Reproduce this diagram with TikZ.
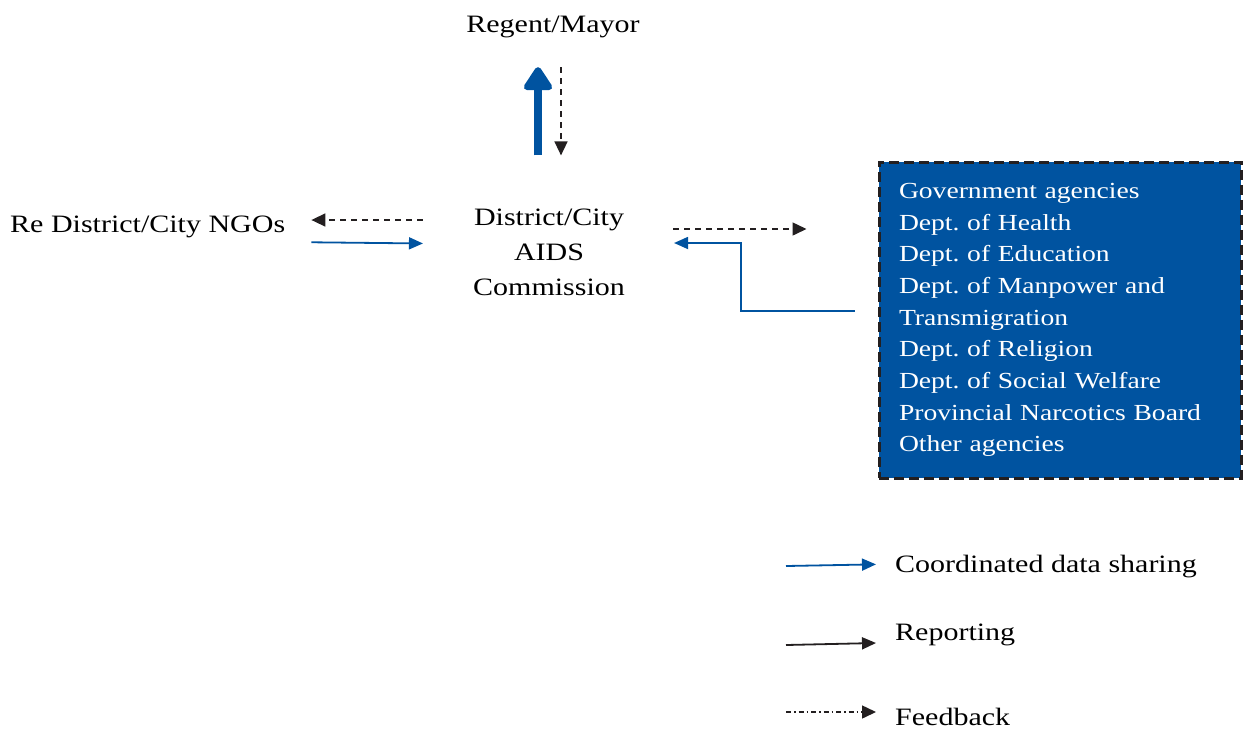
\documentclass[tikz,border=0pt]{standalone}
\usepackage{fontspec}
\setmainfont{Liberation Serif}[FakeStretch=1.2]
\usetikzlibrary{arrows.meta}
\definecolor{kpablue}{RGB}{0,83,160}
\definecolor{ink}{RGB}{35,31,32}
\frenchspacing

\begin{document}
\begin{tikzpicture}[x=1pt, y=1pt,
  txt/.style={inner sep=0pt, font=\fontsize{25}{35}\selectfont},
  data/.style={kpablue, line width=1.8pt, -{Triangle[length=14pt,width=12pt]}},
  rep/.style={ink, line width=1.8pt, -{Triangle[length=14pt,width=12pt]}},
  fb/.style={ink, line width=1.5pt, dash pattern=on 6pt off 5pt, -{Triangle[length=14pt,width=13pt]}},
  fbleg/.style={ink, line width=1.5pt, dash pattern=on 5pt off 3pt on 1.5pt off 3pt, -{Triangle[length=14pt,width=13pt]}}]

  \newcommand\Gap{19pt}

  \useasboundingbox (0,0) rectangle (1245,-729);

  \node[txt] (mayor) at (553,-27) {Regent/Mayor};
  \node[txt, align=center] (comm) at (549,-252) {District/City\\AIDS\\Commission};
  \node[txt, anchor=west] (ngo) at (10,-227) {Re District/City NGOs};
  \node[txt, fill=kpablue, draw=ink, line width=3pt, dash pattern=on 10pt off 5pt,
        text=white, align=left, text width=322pt, inner xsep=20pt, minimum height=316pt,
        font=\fontsize{23}{31.7}\selectfont] (gov) at (1060,-320)
        {Government agencies\\ Dept. of Health\\ Dept. of Education\\
         Dept. of Manpower and\\ Transmigration\\ Dept. of Religion\\
         Dept. of Social Welfare\\ Provincial Narcotics Board\\ Other agencies};

  \draw[kpablue, line width=8pt, -{Triangle[length=26pt,width=32pt,round]},
        shorten <=53pt, shorten >=29pt]
    ([xshift=-11pt]comm.north) -- ([xshift=-15pt]mayor.south); %% comm->mayor
  \draw[fb, shorten <=29pt, shorten >=53pt]
    ([xshift=8pt]mayor.south) -- ([xshift=12pt]comm.north); %% mayor->comm

  \draw[fb, shorten <=50pt, shorten >=26pt] (comm.west |- 0,-220) -- (ngo.east |- 0,-220); %% comm->ngo
  \draw[data, shorten <=26pt, shorten >=50pt] (ngo.east |- 0,-242) -- (comm.west |- 0,-244); %% ngo->comm

  \draw[fb, shorten <=48pt, shorten >=71pt] (comm.east |- 0,-229) -- (gov.west |- 0,-229); %% comm->gov
  \draw[data, shorten <=23pt, shorten >=49pt]
    (gov.west |- 0,-311) -- (741,-311) |- (comm.east |- 0,-243); %% gov->comm

  % legend
  \node[txt, anchor=west] (lgData) at (895,-567) {Coordinated data sharing};
  \node[txt, anchor=west] (lgRep) at (895,-635) {Reporting};
  \node[txt, anchor=west] (lgFb) at (895,-717) {Feedback};

  \coordinate (lgA) at (786,-566);
  \coordinate (lgB) at (786,-645);
  \coordinate (lgC) at (786,-712);
  \draw[data, shorten >=\Gap] (lgA) -- ([yshift=3pt]lgData.west);
  \draw[rep] (lgB) -- ([xshift=-\Gap, yshift=-8pt]lgRep.west);
  \draw[fbleg] (lgC) -- ([xshift=-\Gap, yshift=5pt]lgFb.west);
\end{tikzpicture}
\end{document}
